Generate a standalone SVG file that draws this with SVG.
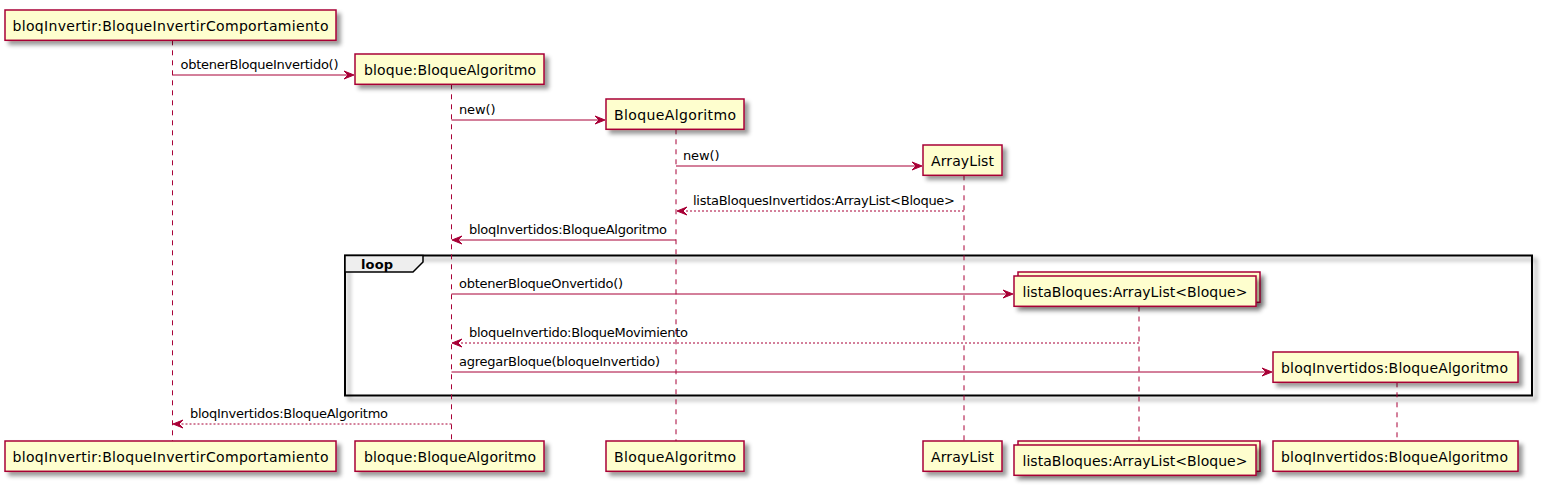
<svg xmlns="http://www.w3.org/2000/svg" width="1544" height="488" viewBox="0 0 1544 488">
<defs>
<filter id="sh" x="-1" y="-1" width="300%" height="300%">
<feGaussianBlur in="SourceAlpha" stdDeviation="2" result="b"/>
<feColorMatrix in="b" type="matrix" values="0 0 0 0 0 0 0 0 0 0 0 0 0 0 0 0 0 0 .4 0" result="b2"/>
<feOffset in="b2" dx="4" dy="4" result="b3"/>
<feBlend in="SourceGraphic" in2="b3" mode="normal"/>
</filter>
<style>
.box{fill:#FEFECE;stroke:#A80036;stroke-width:1.5}
.life{stroke:#A80036;stroke-width:1;stroke-dasharray:5,5;fill:none}
.msg{stroke:#A80036;stroke-width:1;fill:none}
.ret{stroke:#A80036;stroke-width:1;stroke-dasharray:2,2;fill:none}
.head{fill:#A80036;stroke:#A80036;stroke-width:1}
.pt{font-family:"DejaVu Sans",sans-serif;font-size:14px;fill:#000}
.mt{font-family:"DejaVu Sans",sans-serif;font-size:13px;fill:#000}
.lt{font-family:"DejaVu Sans",sans-serif;font-size:13px;font-weight:bold;fill:#000}
</style>
</defs>
<rect width="1544" height="488" fill="#FFFFFF"/>

<g id="loop">
<rect x="345" y="255.5" width="1187" height="140" fill="none" stroke="#000" stroke-width="2" filter="url(#sh)"/>
<polygon points="345,255.5 423,255.5 423,262 413,272 345,272" fill="#EEEEEE" stroke="#000" stroke-width="1.5"/>
<text class="lt" x="361" y="269" textLength="32">loop</text>
</g>

<g id="lifelines">
<line class="life" x1="172.5" y1="40.3" x2="172.5" y2="441"/>
<line class="life" x1="451.5" y1="84.3" x2="451.5" y2="441"/>
<line class="life" x1="676" y1="129.3" x2="676" y2="441"/>
<line class="life" x1="964" y1="175.3" x2="964" y2="441"/>
<line class="life" x1="1139" y1="306.5" x2="1139" y2="441"/>
<line class="life" x1="1397" y1="382.3" x2="1397" y2="441"/>
</g>

<g id="p1">
<rect class="box" filter="url(#sh)" x="5" y="10" width="331" height="30.3"/>
<text class="pt" x="12.5" y="30.5" textLength="316">bloqInvertir:BloqueInvertirComportamiento</text>
<rect class="box" filter="url(#sh)" x="5" y="441" width="331" height="30.3"/>
<text class="pt" x="12.5" y="461.5" textLength="316">bloqInvertir:BloqueInvertirComportamiento</text>
</g>

<g id="p2">
<rect class="box" filter="url(#sh)" x="355" y="54" width="189" height="30.3"/>
<text class="pt" x="364" y="74.5" textLength="172">bloque:BloqueAlgoritmo</text>
<rect class="box" filter="url(#sh)" x="355" y="441" width="189" height="30.3"/>
<text class="pt" x="364" y="461.5" textLength="172">bloque:BloqueAlgoritmo</text>
</g>

<g id="p3">
<rect class="box" filter="url(#sh)" x="606" y="99" width="138" height="30.3"/>
<text class="pt" x="614" y="119.5" textLength="122">BloqueAlgoritmo</text>
<rect class="box" filter="url(#sh)" x="606" y="441" width="138" height="30.3"/>
<text class="pt" x="614" y="461.5" textLength="122">BloqueAlgoritmo</text>
</g>

<g id="p4">
<rect class="box" filter="url(#sh)" x="923" y="145" width="79" height="30.3"/>
<text class="pt" x="931" y="165.5" textLength="63">ArrayList</text>
<rect class="box" filter="url(#sh)" x="923" y="441" width="79" height="30.3"/>
<text class="pt" x="931" y="461.5" textLength="63">ArrayList</text>
</g>

<g id="p5">
<rect class="box" filter="url(#sh)" x="1018" y="272" width="242" height="30.3"/>
<rect class="box" filter="url(#sh)" x="1014" y="276" width="242" height="30.3"/>
<text class="pt" x="1022.5" y="296.5" textLength="225">listaBloques:ArrayList&lt;Bloque&gt;</text>
<rect class="box" filter="url(#sh)" x="1018" y="441" width="242" height="30.3"/>
<rect class="box" filter="url(#sh)" x="1014" y="445" width="242" height="30.3"/>
<text class="pt" x="1022.5" y="465.5" textLength="225">listaBloques:ArrayList&lt;Bloque&gt;</text>
</g>

<g id="p6">
<rect class="box" filter="url(#sh)" x="1273" y="352" width="245" height="30.3"/>
<text class="pt" x="1281" y="372.5" textLength="227">bloqInvertidos:BloqueAlgoritmo</text>
<rect class="box" filter="url(#sh)" x="1273" y="441" width="245" height="30.3"/>
<text class="pt" x="1281" y="461.5" textLength="227">bloqInvertidos:BloqueAlgoritmo</text>
</g>

<g id="connectors">
<line class="msg" x1="172.5" y1="75" x2="352" y2="75"/>
<polygon class="head" points="344,71 354,75 344,79 348,75"/>
<text class="mt" x="180.5" y="69" textLength="158">obtenerBloqueInvertido()</text>

<line class="msg" x1="451.5" y1="120" x2="603" y2="120"/>
<polygon class="head" points="595,116 605,120 595,124 599,120"/>
<text class="mt" x="459" y="114" textLength="36.5">new()</text>

<line class="msg" x1="676" y1="166" x2="920" y2="166"/>
<polygon class="head" points="912,162 922,166 912,170 916,166"/>
<text class="mt" x="683" y="160" textLength="36.5">new()</text>

<line class="ret" x1="964" y1="211" x2="679" y2="211"/>
<polygon class="head" points="687,207 677,211 687,215 683,211"/>
<text class="mt" x="693" y="205" textLength="262">listaBloquesInvertidos:ArrayList&lt;Bloque&gt;</text>

<line class="msg" x1="676" y1="240" x2="454" y2="240"/>
<polygon class="head" points="462,236 452,240 462,244 458,240"/>
<text class="mt" x="469" y="234" textLength="198">bloqInvertidos:BloqueAlgoritmo</text>

<line class="msg" x1="451.5" y1="294" x2="1011" y2="294"/>
<polygon class="head" points="1003,290 1013,294 1003,298 1007,294"/>
<text class="mt" x="459" y="288" textLength="164">obtenerBloqueOnvertido()</text>

<line class="ret" x1="1139" y1="343" x2="454" y2="343"/>
<polygon class="head" points="462,339 452,343 462,347 458,343"/>
<text class="mt" x="469" y="337" textLength="219">bloqueInvertido:BloqueMovimiento</text>

<line class="msg" x1="451.5" y1="372" x2="1270" y2="372"/>
<polygon class="head" points="1262,368 1272,372 1262,376 1266,372"/>
<text class="mt" x="459" y="366" textLength="201">agregarBloque(bloqueInvertido)</text>

<line class="ret" x1="451.5" y1="424" x2="175" y2="424"/>
<polygon class="head" points="183,420 173,424 183,428 179,424"/>
<text class="mt" x="190" y="418" textLength="198">bloqInvertidos:BloqueAlgoritmo</text>
</g>
</svg>
